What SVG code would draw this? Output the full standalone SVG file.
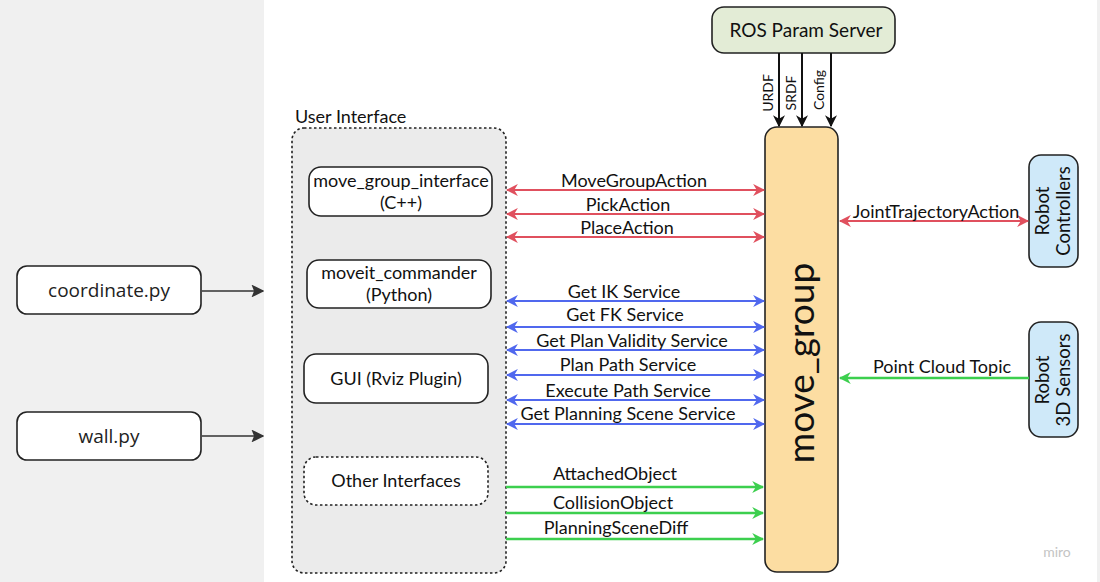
<svg xmlns="http://www.w3.org/2000/svg" width="1100" height="582" viewBox="0 0 1100 582">
<defs>
<style>
.t{font-family:Lato,"Open Sans","Liberation Sans",sans-serif;fill:#111;}
.o{font-family:"Open Sans","Noto Sans","Liberation Sans",sans-serif;fill:#222;}
.lbl{font-size:18px;text-anchor:middle;}
.node{fill:#fff;stroke:#222;stroke-width:1.6;}
.red{stroke:#e0505e;stroke-width:2.2;fill:none;}
.blue{stroke:#5068ee;stroke-width:2.2;fill:none;}
.green{stroke:#3ccf4e;stroke-width:2.6;fill:none;}
.blk{stroke:#111;stroke-width:2;fill:none;}
.dk{stroke:#333;stroke-width:1.6;fill:none;}
</style>
<marker id="mr" viewBox="0 0 10 10" refX="9" refY="5" markerWidth="5.5" markerHeight="5.5" orient="auto-start-reverse" markerUnits="strokeWidth"><path d="M0,0 L10,5 L0,10 L3,5 z" fill="#e0505e"/></marker>
<marker id="mb" viewBox="0 0 10 10" refX="9" refY="5" markerWidth="5.5" markerHeight="5.5" orient="auto-start-reverse" markerUnits="strokeWidth"><path d="M0,0 L10,5 L0,10 L3,5 z" fill="#5068ee"/></marker>
<marker id="mg" viewBox="0 0 10 10" refX="9" refY="5" markerWidth="4.6" markerHeight="4.6" orient="auto-start-reverse" markerUnits="strokeWidth"><path d="M0,0 L10,5 L0,10 L3,5 z" fill="#3ccf4e"/></marker>
<marker id="mk" viewBox="0 0 10 10" refX="9" refY="5" markerWidth="6" markerHeight="6" orient="auto" markerUnits="strokeWidth"><path d="M0,0 L10,5 L0,10 L3,5 z" fill="#111"/></marker>
<marker id="md" viewBox="0 0 10 10" refX="9" refY="5" markerWidth="8" markerHeight="8" orient="auto" markerUnits="strokeWidth"><path d="M0,0 L10,5 L0,10 L2,5 z" fill="#333"/></marker>
</defs>

<rect x="0" y="0" width="1100" height="582" fill="#ffffff"/>
<rect x="0" y="0" width="264" height="582" fill="#f0f0f0"/>
<rect x="1097" y="0" width="3" height="582" fill="#f0f0f0"/>

<g id="ui">
<rect x="292" y="128" width="214" height="445" rx="12" fill="#ebebeb" stroke="#222" stroke-width="1.6" stroke-dasharray="2.5,2.5"/>
<text class="t" x="295" y="123" font-size="18">User Interface</text>
</g>

<g id="coordinate">
<rect class="node" x="17" y="266" width="184" height="48" rx="10"/>
<text class="o" x="109" y="297" font-size="19" text-anchor="middle">coordinate.py</text>
</g>
<g id="wall">
<rect class="node" x="17" y="412" width="184" height="48" rx="10"/>
<text class="o" x="109" y="443" font-size="19" text-anchor="middle">wall.py</text>
</g>

<g id="move_group_interface">
<rect class="node" x="309" y="167" width="183" height="49" rx="12"/>
<text class="t lbl" x="401" y="187">move_group_interface</text>
<text class="t lbl" x="401" y="209">(C++)</text>
</g>
<g id="moveit_commander">
<rect class="node" x="307" y="260" width="184" height="48" rx="12"/>
<text class="t lbl" x="399" y="279">moveit_commander</text>
<text class="t lbl" x="399" y="301">(Python)</text>
</g>
<g id="gui">
<rect class="node" x="304" y="354" width="184" height="49" rx="12"/>
<text class="t lbl" x="396" y="385">GUI (Rviz Plugin)</text>
</g>
<g id="other">
<rect x="304" y="457" width="184" height="48" rx="12" fill="#fff" stroke="#222" stroke-width="1.6" stroke-dasharray="2.5,2.5"/>
<text class="t lbl" x="396" y="487">Other Interfaces</text>
</g>

<g id="ros_param">
<rect x="712" y="7" width="183" height="46" rx="12" fill="#e3ecd6" stroke="#222" stroke-width="1.6"/>
<text class="t" x="806" y="37" font-size="19" text-anchor="middle">ROS Param Server</text>
</g>

<g id="move_group">
<rect x="765" y="127" width="73" height="445" rx="12" fill="#fcdda2" stroke="#222" stroke-width="1.6"/>
<text class="t" transform="translate(814,363) rotate(-90)" font-size="37" text-anchor="middle">move_group</text>
</g>

<g id="controllers">
<rect x="1029" y="155" width="49" height="112" rx="12" fill="#cfe9f9" stroke="#222" stroke-width="1.6"/>
<text class="t" transform="translate(1049,211) rotate(-90)" font-size="18.5" text-anchor="middle">Robot</text>
<text class="t" transform="translate(1070,211) rotate(-90)" font-size="18.5" text-anchor="middle">Controllers</text>
</g>
<g id="sensors">
<rect x="1029" y="322" width="49" height="115" rx="12" fill="#cfe9f9" stroke="#222" stroke-width="1.6"/>
<text class="t" transform="translate(1049,380) rotate(-90)" font-size="18.5" text-anchor="middle">Robot</text>
<text class="t" transform="translate(1070,380) rotate(-90)" font-size="18.5" text-anchor="middle">3D Sensors</text>
</g>

<g id="connectors">
<line class="dk" x1="202" y1="291" x2="263" y2="291" marker-end="url(#md)"/>
<line class="dk" x1="202" y1="436" x2="263" y2="436" marker-end="url(#md)"/>

<line class="blk" x1="779" y1="53" x2="779" y2="126" marker-end="url(#mk)"/>
<line class="blk" x1="802" y1="53" x2="802" y2="126" marker-end="url(#mk)"/>
<line class="blk" x1="831" y1="53" x2="831" y2="126" marker-end="url(#mk)"/>
<text class="t" transform="translate(773,93) rotate(-90)" font-size="14" text-anchor="middle">URDF</text>
<text class="t" transform="translate(796,93) rotate(-90)" font-size="14" text-anchor="middle">SRDF</text>
<text class="t" transform="translate(824,90) rotate(-90)" font-size="14" text-anchor="middle">Config</text>

<line class="red" x1="507" y1="190" x2="764" y2="190" marker-start="url(#mr)" marker-end="url(#mr)"/>
<line class="red" x1="507" y1="214" x2="764" y2="214" marker-start="url(#mr)" marker-end="url(#mr)"/>
<line class="red" x1="507" y1="237" x2="764" y2="237" marker-start="url(#mr)" marker-end="url(#mr)"/>
<text class="t lbl" x="634" y="187">MoveGroupAction</text>
<text class="t lbl" x="628" y="211">PickAction</text>
<text class="t lbl" x="627" y="234">PlaceAction</text>

<line class="blue" x1="507" y1="301" x2="764" y2="301" marker-start="url(#mb)" marker-end="url(#mb)"/>
<line class="blue" x1="507" y1="327" x2="764" y2="327" marker-start="url(#mb)" marker-end="url(#mb)"/>
<line class="blue" x1="507" y1="350" x2="764" y2="350" marker-start="url(#mb)" marker-end="url(#mb)"/>
<line class="blue" x1="507" y1="375" x2="764" y2="375" marker-start="url(#mb)" marker-end="url(#mb)"/>
<line class="blue" x1="507" y1="400" x2="764" y2="400" marker-start="url(#mb)" marker-end="url(#mb)"/>
<line class="blue" x1="507" y1="424" x2="764" y2="424" marker-start="url(#mb)" marker-end="url(#mb)"/>
<text class="t lbl" x="624" y="298">Get IK Service</text>
<text class="t lbl" x="625" y="321">Get FK Service</text>
<text class="t lbl" x="632" y="347">Get Plan Validity Service</text>
<text class="t lbl" x="628" y="371">Plan Path Service</text>
<text class="t lbl" x="628" y="397">Execute Path Service</text>
<text class="t lbl" x="628" y="420">Get Planning Scene Service</text>

<line class="green" x1="506" y1="487" x2="763" y2="487" marker-end="url(#mg)"/>
<line class="green" x1="506" y1="513" x2="763" y2="513" marker-end="url(#mg)"/>
<line class="green" x1="506" y1="539" x2="763" y2="539" marker-end="url(#mg)"/>
<text class="t lbl" x="615" y="480">AttachedObject</text>
<text class="t lbl" x="613" y="509">CollisionObject</text>
<text class="t lbl" x="616" y="534">PlanningSceneDiff</text>

<line class="red" x1="840" y1="221" x2="1028" y2="221" marker-start="url(#mr)" marker-end="url(#mr)"/>
<text class="t lbl" x="936" y="218">JointTrajectoryAction</text>

<line class="green" x1="1029" y1="378" x2="840" y2="378" marker-end="url(#mg)"/>
<text class="t lbl" x="942" y="373">Point Cloud Topic</text>
</g>

<text x="1057" y="557" font-family="Lato,'Open Sans',sans-serif" font-size="14" fill="#c4c4c4" text-anchor="middle">miro</text>
</svg>
